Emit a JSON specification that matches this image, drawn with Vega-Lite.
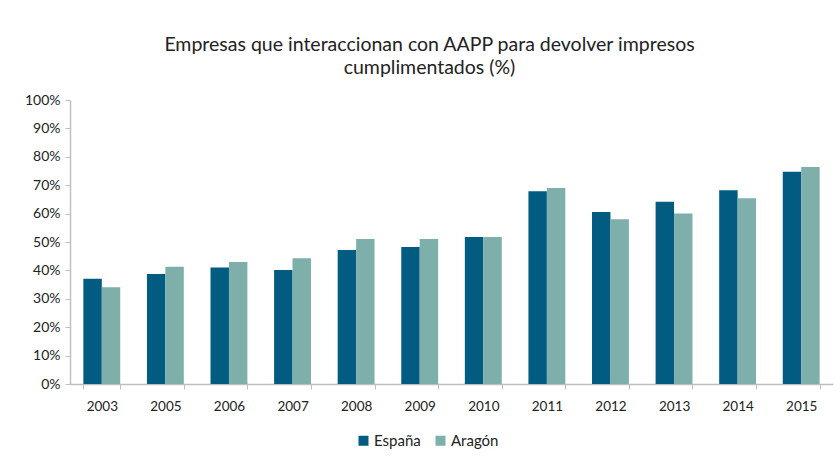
{
  "$schema": "https://vega.github.io/schema/vega-lite/v6.json",
  "autosize": "none",
  "width": 763,
  "height": 284,
  "padding": {"left": 70, "top": 100, "right": 7, "bottom": 75},
  "background": "white",
  "title": {
    "text": ["Empresas que interaccionan con AAPP para devolver impresos", "cumplimentados (%)"],
    "font": "Lato",
    "fontSize": 19.5,
    "fontWeight": "normal",
    "color": "#222222",
    "lineHeight": 23,
    "anchor": "middle",
    "dx": -22,
    "offset": 15
  },
  "data": {
    "values": [
      {"year": "2003", "region": "España", "value": 37.1},
      {"year": "2003", "region": "Aragón", "value": 34.1},
      {"year": "2005", "region": "España", "value": 38.7},
      {"year": "2005", "region": "Aragón", "value": 41.3},
      {"year": "2006", "region": "España", "value": 41.0},
      {"year": "2006", "region": "Aragón", "value": 43.0},
      {"year": "2007", "region": "España", "value": 40.1},
      {"year": "2007", "region": "Aragón", "value": 44.3},
      {"year": "2008", "region": "España", "value": 47.2},
      {"year": "2008", "region": "Aragón", "value": 51.1},
      {"year": "2009", "region": "España", "value": 48.2},
      {"year": "2009", "region": "Aragón", "value": 51.1},
      {"year": "2010", "region": "España", "value": 51.8},
      {"year": "2010", "region": "Aragón", "value": 51.8},
      {"year": "2011", "region": "España", "value": 67.9},
      {"year": "2011", "region": "Aragón", "value": 69.0},
      {"year": "2012", "region": "España", "value": 60.6},
      {"year": "2012", "region": "Aragón", "value": 58.0},
      {"year": "2013", "region": "España", "value": 64.2},
      {"year": "2013", "region": "Aragón", "value": 60.0},
      {"year": "2014", "region": "España", "value": 68.2},
      {"year": "2014", "region": "Aragón", "value": 65.4},
      {"year": "2015", "region": "España", "value": 74.7},
      {"year": "2015", "region": "Aragón", "value": 76.4}
    ]
  },
  "mark": {"type": "bar"},
  "encoding": {
    "x": {
      "field": "year",
      "type": "nominal",
      "title": null,
      "scale": {"paddingInner": 0.42, "paddingOuter": 0.21},
      "axis": {
        "labelAngle": 0,
        "labelFont": "Lato",
        "labelFontSize": 13.5,
        "labelColor": "#222222",
        "labelPadding": 10,
        "tickBand": "extent",
        "tickSize": 5,
        "tickColor": "#BFBFBF",
        "domainColor": "#BFBFBF",
        "domainWidth": 1.5
      }
    },
    "xOffset": {"field": "region", "type": "nominal", "sort": ["España", "Aragón"]},
    "y": {
      "field": "value",
      "type": "quantitative",
      "title": null,
      "scale": {"domain": [0, 100]},
      "axis": {
        "values": [0, 10, 20, 30, 40, 50, 60, 70, 80, 90, 100],
        "labelExpr": "datum.value + '%'",
        "labelFont": "Lato",
        "labelFontSize": 14,
        "labelColor": "#222222",
        "labelPadding": 5,
        "grid": false,
        "tickSize": 5,
        "tickColor": "#BFBFBF",
        "domainColor": "#BFBFBF",
        "domainWidth": 1.5
      }
    },
    "color": {
      "field": "region",
      "type": "nominal",
      "sort": ["España", "Aragón"],
      "scale": {"domain": ["España", "Aragón"], "range": ["#025B80", "#7FAFAA"]},
      "legend": {
        "title": null,
        "orient": "none",
        "direction": "horizontal",
        "legendX": 286,
        "legendY": 333,
        "symbolType": "square",
        "symbolSize": 100,
        "symbolStrokeWidth": 0,
        "labelFont": "Lato",
        "labelFontSize": 15,
        "labelColor": "#222222",
        "labelOffset": 3,
        "columnPadding": 12
      }
    }
  },
  "config": {
    "view": {"stroke": null}
  }
}
